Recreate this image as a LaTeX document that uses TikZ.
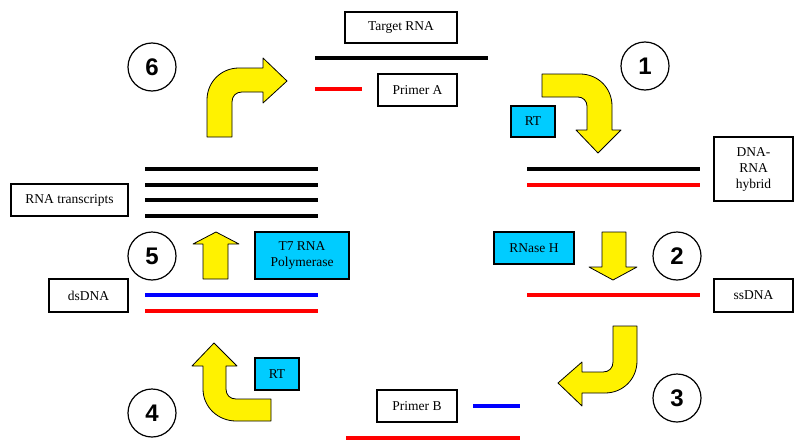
\documentclass[tikz,border=0pt]{standalone}
\usepackage{fontspec}
\setmainfont{Liberation Serif}
\newfontfamily\numfont{Liberation Sans}
\definecolor{enzcyan}{RGB}{0,204,255}

\begin{document}
\begin{tikzpicture}[x=1pt,y=-1pt,
    box/.style={draw,line width=1.2pt,fill=white,inner sep=0pt,align=center,
                font=\fontsize{13.5}{16}\selectfont},
    enzyme/.style={box,fill=enzcyan},
    stepnum/.style={draw,circle,line width=1.2pt,minimum size=48pt,inner sep=0pt,
                    font=\numfont\bfseries\fontsize{24}{24}\selectfont},
    strand/.style={line width=3.5pt},
    yarrow/.style={fill=yellow,draw=black,line width=0.8pt,line join=round}]
  \useasboundingbox (0,0) rectangle (803,447);

  % step numbers
  \node[stepnum] (n6) at (152,67) {6};
  \node[stepnum] (n1) at (645,66) {1};
  \node[stepnum] (n5) at (152,256) {5};
  \node[stepnum] (n2) at (677,256) {2};
  \node[stepnum] (n4) at (152,413) {4};
  \node[stepnum] (n3) at (677,398) {3};

  % labels
  \node[box,minimum width=112pt,minimum height=31pt] (target) at (401,27.5) {Target RNA};
  \node[box,minimum width=79pt,minimum height=32pt] (primA) at (417.5,90) {Primer A};
  \node[box,minimum width=79pt,minimum height=64pt] (hybrid) at (753.5,169) {DNA-\\RNA\\hybrid};
  \node[box,minimum width=117pt,minimum height=32pt] (transcr) at (69.5,200) {RNA transcripts};
  \node[box,minimum width=79pt,minimum height=33pt] (dsdna) at (88.5,295.5) {dsDNA};
  \node[box,minimum width=79pt,minimum height=33pt] (ssdna) at (753.5,295.5) {ssDNA};
  \node[box,minimum width=80pt,minimum height=32pt] (primB) at (417,406) {Primer B};

  % enzymes
  \node[enzyme,minimum width=44pt,minimum height=31pt] (rtA) at (533,121.5) {RT};
  \node[enzyme,minimum width=94pt,minimum height=47pt] (t7) at (302,255.5) {T7 RNA\\Polymerase};
  \node[enzyme,minimum width=80pt,minimum height=32pt] (rnaseh) at (534,248) {RNase H};
  \node[enzyme,minimum width=44pt,minimum height=32pt] (rtB) at (277,374) {RT};

  % strands
  \draw[strand] (315,58) -- (488,58);
  \draw[strand,red] (315,89) -- (362,89);
  \draw[strand] (527,169) -- (700,169);
  \draw[strand,red] (527,185) -- (700,185);
  \draw[strand,red] (527,295) -- (700,295);
  \draw[strand,blue] (473,406) -- (520,406);
  \draw[strand,red] (346,438) -- (520,438);
  \foreach \yy in {169,185,200,216}
  {
       \draw[strand] (145,\yy) -- (318,\yy);
  }
  \draw[strand,blue] (145,295) -- (318,295);
  \draw[strand,red] (145,311) -- (318,311);

  % bent arrows
  \filldraw[yarrow] (207,137) -- (207,100) .. controls (207,82) and (221,68) .. (239,68)
      -- (263,68) -- (263,58) -- (287,81) -- (263,103) -- (263,92) -- (242,92)
      .. controls (236,92) and (232,96) .. (232,102) -- (232,137) -- cycle;
  \filldraw[yarrow] (542,74) -- (580,74) .. controls (598,74) and (612,88) .. (612,106)
      -- (612,130) -- (621,130) -- (598,153) -- (576,130) -- (587,130) -- (587,106)
      .. controls (587,101) and (583,97) .. (578,97) -- (542,97) -- cycle;
  \filldraw[yarrow] (613,326) -- (637,326) -- (637,361) .. controls (637,379) and (623,393) .. (605,393)
      -- (582,393) -- (582,406) -- (558,383) -- (582,362) -- (582,372) -- (603,372)
      .. controls (609,372) and (613,368) .. (613,362) -- cycle;
  \filldraw[yarrow] (271,399) -- (271,421) -- (236,421) .. controls (218,421) and (203,407) .. (203,389)
      -- (203,366) -- (192,366) -- (214,343) -- (237,366) -- (226,366) -- (226,389)
      .. controls (226,395) and (230,399) .. (236,399) -- cycle;

  % straight arrows
  \filldraw[yarrow] (203,279) -- (203,244) -- (193,244) -- (216,232) -- (239,244)
      -- (228,244) -- (228,279) -- cycle;
  \filldraw[yarrow] (602,232) -- (626,232) -- (626,267) -- (637,267) -- (613,280)
      -- (589,267) -- (602,267) -- cycle;
\end{tikzpicture}
\end{document}
